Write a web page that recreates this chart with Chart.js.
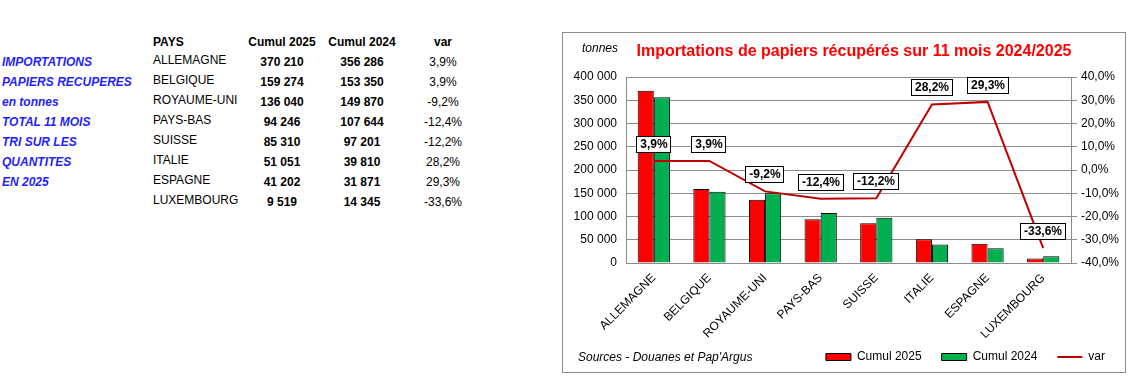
<!DOCTYPE html>
<html>
<head>
<meta charset="utf-8">
<script src="https://cdn.jsdelivr.net/npm/chart.js@4.4.1/dist/chart.umd.min.js"></script>
<style>
body { margin: 0; background: #fff; font-family: Arial, "Liberation Sans", sans-serif; font-size: 12px; color: #000; }
#page { position: relative; width: 1144px; height: 390px; overflow: hidden; }
.t { position: absolute; white-space: nowrap; line-height: 14px; }
.blue { color: #1f1fff; font-weight: bold; font-style: italic; }
.b { font-weight: bold; }
.c { text-align: center; width: 120px; }
#box { position: absolute; left: 562px; top: 32px; width: 562px; height: 339px; border: 1px solid #8c8c8c; }
#title { position: absolute; left: 554px; top: 41px; width: 600px; text-align: center; color: #ff0000; font-weight: bold; font-size: 16px; line-height: 19px; white-space: nowrap; }
</style>
</head>
<body>
<div id="page">
  <div id="box"><canvas id="myChart" width="562" height="339"></canvas></div>
  <div id="title">Importations de papiers récupérés sur 11 mois 2024/2025</div>
  <div class="t" style="left:582px;top:41px;font-style:italic;">tonnes</div>
  <div class="t" style="left:578px;top:350px;font-style:italic;">Sources - Douanes et Pap'Argus</div>
</div>
<script>
// data
var countries = ['ALLEMAGNE', 'BELGIQUE', 'ROYAUME-UNI', 'PAYS-BAS', 'SUISSE', 'ITALIE', 'ESPAGNE', 'LUXEMBOURG'];
var cumul2025 = [370210, 159274, 136040, 94246, 85310, 51051, 41202, 9519];
var cumul2024 = [356286, 153350, 149870, 107644, 97201, 39810, 31871, 14345];
var varPct = [3.9, 3.9, -9.2, -12.4, -12.2, 28.2, 29.3, -33.6];
var tonnesTicks = { min: 0, max: 400000, step: 50000 };
var pctTicks = { min: -40, max: 40, step: 10 };
var headers = ['PAYS', 'Cumul 2025', 'Cumul 2024', 'var'];
var introLines = ['IMPORTATIONS', 'PAPIERS RECUPERES', 'en tonnes', 'TOTAL 11 MOIS', 'TRI SUR LES', 'QUANTITES', 'EN 2025'];

function fmtNum(v) { return String(v).replace(/\B(?=(\d{3})+(?!\d))/g, ' '); }
function fmtPct(v) { return v.toFixed(1).replace('.', ',') + '%'; }

// left text block + table
var page = document.getElementById('page');
function addText(txt, cls, left, top, center) {
    var d = document.createElement('div');
    d.className = 't ' + cls + (center ? ' c' : '');
    d.style.left = (center ? left - 60 : left) + 'px';
    d.style.top = top + 'px';
    d.textContent = txt;
    page.appendChild(d);
}
introLines.forEach(function (s, i) { addText(s, 'blue', 2, 55 + i * 20, false); });
addText(headers[0], 'b', 153, 35, false);
addText(headers[1], 'b', 282, 35, true);
addText(headers[2], 'b', 362, 35, true);
addText(headers[3], 'b', 443, 35, true);
countries.forEach(function (c, i) {
    addText(c, '', 153, 53 + i * 20, false);
    addText(fmtNum(cumul2025[i]), 'b', 282, 55 + i * 20, true);
    addText(fmtNum(cumul2024[i]), 'b', 362, 55 + i * 20, true);
    addText(fmtPct(varPct[i]), '', 443, 55 + i * 20, true);
});

Chart.defaults.font.family = 'Arial, "Liberation Sans", sans-serif';
Chart.defaults.font.size = 12;
Chart.defaults.color = '#000';

var gridGray = '#8c8c8c';

// boxed labels above the var line
var boxLabels = {
    id: 'boxLabels',
    afterDatasetsDraw: function (chart) {
        var meta = chart.getDatasetMeta(2);
        var ctx = chart.ctx;
        ctx.save();
        ctx.font = 'bold 12px Arial, "Liberation Sans", sans-serif';
        ctx.textAlign = 'center';
        ctx.textBaseline = 'middle';
        meta.data.forEach(function (pt, i) {
            var txt = fmtPct(varPct[i]);
            var w = Math.round(ctx.measureText(txt).width + 8), h = 17;
            var cx = Math.round(pt.x), cy = Math.round(pt.y - 17);
            var x0 = cx - Math.round(w / 2), y0 = cy - 8;
            ctx.fillStyle = '#fff';
            ctx.fillRect(x0, y0, w, h);
            ctx.strokeStyle = '#000';
            ctx.lineWidth = 1;
            ctx.strokeRect(x0 + 0.5, y0 + 0.5, w - 1, h - 1);
            ctx.fillStyle = '#000';
            ctx.fillText(txt, cx, cy + 1);
        });
        ctx.restore();
    }
};

var c = document.getElementById('myChart');
var ctx = c.getContext('2d');

var chart = new Chart(ctx, {
    type: 'bar',
    data: {
        labels: countries,
        datasets: [{
            label: 'Cumul 2025',
            data: cumul2025,
            backgroundColor: '#ff0000',
            borderColor: '#000',
            borderWidth: 1,
            yAxisID: 'y'
        }, {
            label: 'Cumul 2024',
            data: cumul2024,
            backgroundColor: '#00b050',
            borderColor: '#000',
            borderWidth: 1,
            yAxisID: 'y'
        }, {
            type: 'line',
            label: 'var',
            data: varPct,
            borderColor: '#c00000',
            backgroundColor: '#c00000',
            borderWidth: 2,
            pointRadius: 0,
            tension: 0,
            order: -1,
            yAxisID: 'y1'
        }]
    },
    options: {
        responsive: false,
        animation: false,
        categoryPercentage: 0.58,
        barPercentage: 1,
        layout: { padding: { top: 44, left: 0, right: 0, bottom: 11 } },
        plugins: {
            title: { display: false },
            tooltip: { enabled: false },
            legend: {
                position: 'bottom',
                align: 'end',
                maxHeight: 30,
                labels: {
                    usePointStyle: true,
                    pointStyleWidth: 25,
                    boxHeight: 7,
                    padding: 20,
                    generateLabels: function (ch) {
                        var items = Chart.defaults.plugins.legend.labels.generateLabels(ch);
                        items.sort(function (a, b) { return a.datasetIndex - b.datasetIndex; });
                        items.forEach(function (it) {
                            if (it.datasetIndex === 2) {
                                it.pointStyle = 'line';
                                it.strokeStyle = '#c00000';
                                it.lineWidth = 2;
                            } else {
                                it.pointStyle = 'rect';
                                it.strokeStyle = '#000';
                                it.lineWidth = 1;
                            }
                        });
                        return items;
                    }
                }
            }
        },
        scales: {
            x: {
                grid: { display: false, drawTicks: false },
                border: { color: gridGray },
                ticks: { minRotation: 45, maxRotation: 45, padding: 8, autoSkip: false },
                afterFit: function (s) { s.height = 68; },
                // long rotated names run below the axis box, so don't clip them
                afterUpdate: function (s) { s._computeLabelArea = function () { return null; }; }
            },
            y: {
                position: 'left',
                min: tonnesTicks.min,
                max: tonnesTicks.max,
                grid: { color: gridGray, drawTicks: false },
                border: { color: gridGray },
                ticks: {
                    stepSize: tonnesTicks.step,
                    padding: 9,
                    callback: function (v) { return fmtNum(v); }
                },
                afterFit: function (s) { s.width = 63; }
            },
            y1: {
                position: 'right',
                min: pctTicks.min,
                max: pctTicks.max,
                grid: { drawOnChartArea: false, drawTicks: true, tickLength: 6, color: gridGray },
                border: { color: gridGray },
                ticks: {
                    stepSize: pctTicks.step,
                    padding: 4,
                    callback: function (v) { return fmtPct(v); }
                },
                afterFit: function (s) { s.width = 54; }
            }
        }
    },
    plugins: [boxLabels]
});
</script>
</body>
</html>
